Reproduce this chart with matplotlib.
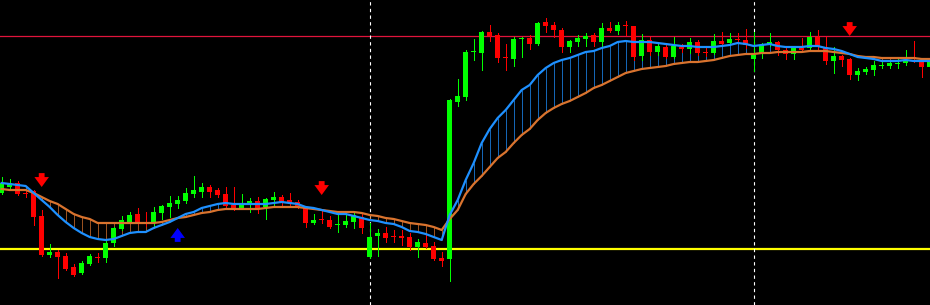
"""Candlestick chart with two moving averages, signal arrows and levels,
drawn in the dark MetaTrader-like style. Prices are in chart points."""

import matplotlib
matplotlib.use('Agg')
import matplotlib.pyplot as plt
import numpy as np

# OHLC per bar (oldest first)
open_ = [107, 113, 117, 107, 109, 84, 45, 48, 44, 33, 27, 36, 43, 42, 57, 71, 78, 86, 78, 77,
         87, 93, 96, 99, 106, 108, 113, 110, 106, 95, 92, 96, 99, 93, 100, 103, 100, 98, 92, 77,
         81, 80, 75, 75, 78, 83, 43, 64, 67, 64, 64, 63, 53, 57, 54, 42, 41, 198, 203, 248,
         247, 268, 265, 243, 241, 261, 262, 256, 278, 275, 270, 253, 258, 261, 265, 258, 272, 269, 275, 274,
         244, 260, 248, 253, 243, 253, 251, 258, 248, 247, 259, 257, 261, 260, 241, 247, 255, 258, 250, 246,
         252, 252, 263, 253, 239, 244, 241, 225, 228, 230, 234, 234, 236, 237, 243, 238, 233]
high = [123, 121, 119, 110, 110, 90, 56, 50, 47, 36, 39, 46, 47, 59, 73, 84, 88, 92, 88, 93,
        95, 104, 104, 112, 124, 117, 115, 112, 113, 113, 106, 102, 103, 102, 108, 105, 107, 100, 93, 86,
        90, 84, 85, 85, 87, 87, 77, 71, 73, 70, 70, 67, 61, 65, 58, 48, 201, 221, 250, 261,
        269, 275, 267, 256, 263, 263, 265, 278, 282, 278, 272, 260, 265, 267, 267, 277, 278, 278, 279, 274,
        266, 263, 256, 257, 263, 256, 262, 260, 252, 266, 268, 267, 267, 271, 268, 257, 267, 259, 252, 254,
        262, 268, 270, 263, 253, 245, 242, 232, 233, 239, 238, 240, 241, 250, 259, 239, 240]
low = [106, 112, 105, 103, 75, 44, 43, 22, 30, 24, 26, 35, 38, 38, 54, 70, 77, 76, 74, 73,
       81, 83, 92, 97, 103, 103, 103, 103, 93, 90, 91, 88, 87, 81, 93, 95, 93, 92, 73, 76,
       77, 72, 68, 73, 72, 67, 42, 44, 58, 58, 55, 50, 43, 52, 40, 34, 19, 194, 200, 240,
       230, 259, 238, 230, 234, 243, 251, 255, 268, 263, 248, 248, 254, 254, 254, 253, 268, 266, 265, 240,
       240, 245, 245, 242, 242, 248, 247, 245, 244, 246, 254, 255, 257, 252, 229, 242, 254, 245, 241, 241,
       249, 250, 250, 236, 227, 234, 221, 220, 226, 225, 232, 232, 232, 235, 238, 223, 227]
close = [117, 117, 106, 106, 83, 45, 48, 43, 31, 25, 37, 44, 42, 57, 72, 80, 85, 77, 77, 88,
         94, 97, 100, 107, 110, 113, 108, 105, 94, 91, 97, 99, 92, 101, 103, 98, 97, 93, 77, 80,
         80, 73, 76, 79, 85, 72, 63, 67, 62, 63, 62, 53, 58, 53, 41, 39, 200, 204, 248, 249,
         268, 264, 242, 242, 261, 262, 256, 277, 274, 270, 253, 259, 262, 264, 258, 272, 269, 275, 274, 243,
         260, 248, 254, 243, 254, 251, 258, 247, 247, 259, 256, 261, 260, 255, 245, 255, 258, 250, 246, 252,
         250, 263, 253, 239, 244, 240, 225, 229, 231, 235, 235, 237, 237, 240, 242, 233, 238]

# moving averages as drawn on the chart (fast = blue, slow = orange)
ma_fast = [117, 116, 115, 114, 107, 100, 93, 85, 78, 72, 67, 63, 61, 60, 61, 64, 67, 68, 68, 72,
           75, 78, 82, 86, 88, 92, 94, 96, 97, 96, 96, 96, 96, 96, 97, 98, 97, 96, 93, 92,
           90, 88, 86, 86, 84, 82, 80, 79, 77, 76, 73, 69, 68, 66, 63, 60, 85, 100, 120, 137,
           157, 171, 182, 190, 200, 210, 215, 225, 232, 237, 240, 242, 245, 248, 249, 252, 254, 258, 259, 258,
           258, 258, 257, 256, 255, 254, 254, 253, 253, 253, 254, 255, 257, 256, 254, 255, 256, 254, 253, 253,
           253, 254, 254, 252, 251, 249, 246, 243, 242, 241, 239, 239, 239, 240, 239, 239, 239]
ma_slow = [111, 110, 110, 110, 107, 103, 99, 96, 91, 86, 83, 81, 77, 77, 77, 77, 77, 77, 77, 77,
           78, 80, 82, 83, 85, 87, 88, 90, 91, 91, 91, 91, 91, 92, 93, 93, 93, 93, 92, 91,
           90, 89, 88, 88, 88, 87, 85, 84, 82, 81, 79, 77, 76, 75, 73, 70, 81, 90, 106, 116,
           124, 133, 142, 148, 157, 165, 171, 180, 187, 192, 196, 199, 203, 207, 212, 215, 219, 223, 227, 229,
           231, 232, 233, 234, 236, 237, 238, 238, 239, 240, 242, 244, 245, 246, 246, 247, 247, 248, 248, 248,
           248, 249, 249, 249, 248, 247, 246, 244, 243, 243, 242, 242, 242, 242, 242, 241, 241]

# signals: bar index and the price level the arrow tip points at
sell_bars = [5, 40, 106]
sell_prices = [113, 105, 264]
buy_bars = [22]
buy_prices = [72]

resistance = 264      # red horizontal line
support = 51          # yellow horizontal line
day_breaks = [46, 94]  # dotted period separators (bar index)

BULL = '#00FF00'
BEAR = '#FF0000'
FAST = '#1E90FF'
SLOW = '#D9732E'


def draw_candles(ax, o, h, l, c, width=0.7):
    x = np.arange(len(o))
    o, h, l, c = map(np.asarray, (o, h, l, c))
    up = c >= o
    colors = np.where(up, BULL, BEAR)
    ax.vlines(x, l, h, colors=colors, linewidth=0.72, zorder=3, antialiased=False)
    bottom = np.minimum(o, c)
    height = np.maximum(np.abs(c - o), 1.2)
    ax.bar(x, height, width=width, bottom=bottom, color=colors,
           linewidth=0, zorder=4, antialiased=False)


fig = plt.figure(figsize=(9.3, 3.05), dpi=100, facecolor='black')
ax = fig.add_axes([0, 0, 1, 1])
ax.set_facecolor('black')

n = len(close)
x = np.arange(n)
fast = np.asarray(ma_fast)
slow = np.asarray(ma_slow)

# connectors between the two averages, coloured by whichever is on top
conn_colors = np.where(fast >= slow, FAST, SLOW)
ax.vlines(x, np.minimum(fast, slow), np.maximum(fast, slow),
          colors=conn_colors, linewidth=0.6, alpha=0.85, zorder=2)

ax.axhline(resistance, color='#E0143C', linewidth=0.9, zorder=1)
ax.axhline(support, color='#FFFF00', linewidth=1.6, zorder=1)
for b in day_breaks:
    ax.axvline(b, color='white', linewidth=0.8, linestyle=(0, (3, 3)), zorder=1)

draw_candles(ax, open_, high, low, close)

ax.plot(x, slow, color=SLOW, linewidth=1.6, zorder=5)
ax.plot(x, fast, color=FAST, linewidth=1.6, zorder=6)

arrow_style = 'simple,head_length=0.65,head_width=0.95,tail_width=0.38'
for b, p in zip(sell_bars, sell_prices):
    ax.annotate('', xy=(b, p), xytext=(0, 10), textcoords='offset points',
                arrowprops=dict(arrowstyle=arrow_style, color=BEAR, mutation_scale=11,
                                shrinkA=0, shrinkB=0, linewidth=0), zorder=7)
for b, p in zip(buy_bars, buy_prices):
    ax.annotate('', xy=(b, p), xytext=(0, -10), textcoords='offset points',
                arrowprops=dict(arrowstyle=arrow_style, color='#0000FF', mutation_scale=11,
                                shrinkA=0, shrinkB=0, linewidth=0), zorder=7)

ax.set_xlim(-0.21, 116.04)
ax.set_ylim(-5, 300)
ax.axis('off')

fig.savefig('out.png', dpi=100, facecolor='black')
plt.close(fig)
